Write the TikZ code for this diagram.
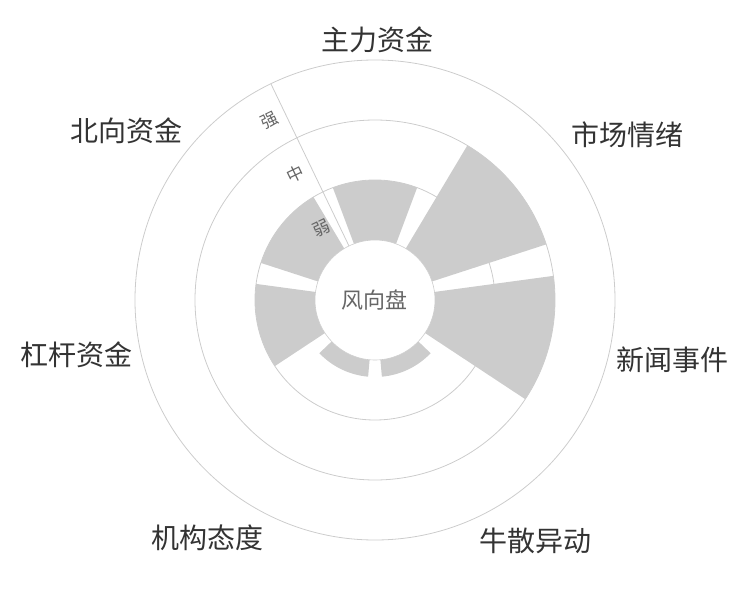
\documentclass[tikz,border=0pt]{standalone}
\usepackage{fontspec}
\setmainfont{Noto Sans CJK SC}
\usepackage{tikz}
\usetikzlibrary{calc,positioning}
\definecolor{gridgray}{HTML}{CCCCCC}
\definecolor{bargray}{HTML}{CCCCCC}
\definecolor{labeldark}{HTML}{333333}
\definecolor{labelmid}{HTML}{666666}
\tikzset{
  ringline/.style={draw=gridgray, line width=0.8pt},
  barsector/.style={fill=bargray},
  catlabel/.style={
    text=labeldark,
    font=\fontsize{28}{31}\selectfont,
    inner sep=0pt},
  levellabel/.style={
    text=labelmid,
    font=\fontsize{17}{20}\selectfont,
    inner sep=0pt,
    rotate=25.71},
  hub/.style={
    circle,
    fill=white,
    draw=gridgray, line width=0.6pt,
    minimum size=120pt,
    inner sep=0pt,
    text=labelmid,
    font=\fontsize{22}{26}\selectfont},
}

\begin{document}
\begin{tikzpicture}[x=1pt, y=1pt]
		\useasboundingbox (-375,-300) rectangle (375,300);
		% rings
		\foreach \r in {120,180,240}
			\draw[ringline] (0,0) circle (\r);
		% sectors: centre angle / outer radius
		\foreach \a/\r [evaluate=\a as \lo using \a-20.57, evaluate=\a as \hi using \a+20.57] in
			{90/120, 38.57/180, -12.86/180, -64.29/77, -115.71/77, -167.14/120, 141.43/120}
			\fill[barsector] (\lo:60) -- (\lo:\r) arc[start angle=\lo, end angle=\hi, radius=\r]
				-- (\hi:60) arc[start angle=\hi, end angle=\lo, radius=60] -- cycle;
		% radius axis
		\coordinate (axisin) at (115.71:60);
		\coordinate (axisout) at (115.71:240);
		\draw[ringline] (axisin) -- (axisout);
		\path (115.71:88) ++(205.71:17) node[levellabel] (weak) {弱};
		\path (115.71:148) ++(205.71:17) node[levellabel] (medium) {中};
		\path (115.71:208) ++(205.71:17) node[levellabel] (strong) {强};
		\node[hub] (hub) at (0,0) {风向盘};
		% categories
		\node[catlabel] (main-funds) at (3,260) {主力资金};
		\node[catlabel] (sentiment) at (252,165) {市场情绪};
		\node[catlabel] (news) at (297,-60) {新闻事件};
		\node[catlabel] (bull) at (160,-241) {牛散异动};
		\node[catlabel] (institution) at (-167,-238) {机构态度};
		\node[catlabel] (leverage) at (-298,-55) {杠杆资金};
		\node[catlabel] (northbound) at (-248,169) {北向资金};
	\end{tikzpicture}
\end{document}
